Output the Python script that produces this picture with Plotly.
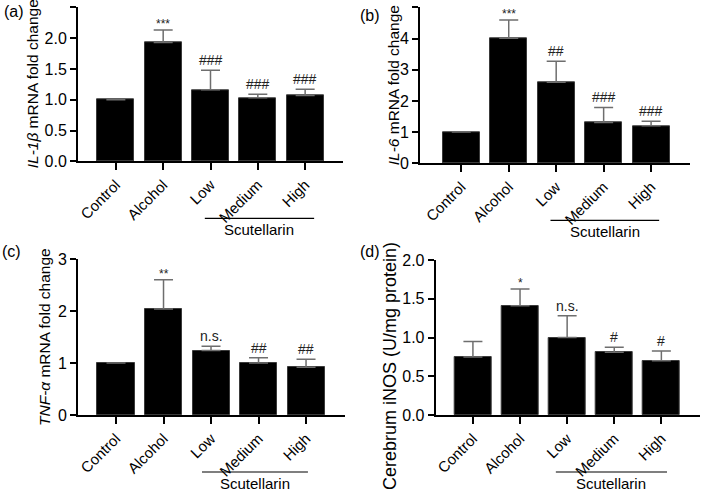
import plotly.graph_objects as go

W, H = 704, 491
FONT = "Arial, 'Liberation Sans', sans-serif"
ERR_GRAY = "#6e6e6e"

categories = ["Control", "Alcohol", "Low", "Medium", "High"]

il1b_mean = [1.0, 1.93, 1.16, 1.03, 1.07]
il1b_err = [0.0, 0.20, 0.32, 0.06, 0.10]
il1b_sig = ["", "***", "###", "###", "###"]

il6_mean = [1.0, 4.01, 2.60, 1.31, 1.20]
il6_err = [0.0, 0.58, 0.67, 0.48, 0.15]
il6_sig = ["", "***", "##", "###", "###"]

tnf_mean = [1.0, 2.04, 1.24, 1.00, 0.92]
tnf_err = [0.0, 0.56, 0.08, 0.10, 0.15]
tnf_sig = ["", "**", "n.s.", "##", "##"]

inos_mean = [0.75, 1.41, 1.00, 0.81, 0.70]
inos_err = [0.20, 0.215, 0.28, 0.065, 0.125]
inos_sig = ["", "*", "n.s.", "#", "#"]

# panel geometry in pixels: x-axis span, y-axis span (top, bottom)
panels = [
    dict(label="(a)", mean=il1b_mean, err=il1b_err, sig=il1b_sig,
         px=(78, 343), py=(7.3, 161.3), xr=(-0.8, 4.8), yr=(0, 2.5), dtick=0.5, fmt=".1f",
         title="<i>IL-1β</i> mRNA fold change", tx=32, tsize=15.5, ty=None,
         lab=(2, 12), line=(1.88, 4.19)),
    dict(label="(b)", mean=il6_mean, err=il6_err, sig=il6_sig,
         px=(420, 690), py=(7.3, 163.3), xr=(-0.87, 4.82), yr=(0, 5), dtick=1, fmt="d",
         title="<i>IL-6</i> mRNA fold change", tx=393, tsize=15.5, ty=None,
         lab=(358, 15), line=(1.88, 4.17)),
    dict(label="(c)", mean=tnf_mean, err=tnf_err, sig=tnf_sig,
         px=(78, 345), py=(259, 415), xr=(-0.8, 4.82), yr=(0, 3), dtick=1, fmt="d",
         title="<i>TNF-α</i> mRNA fold change", tx=44, tsize=15.5, ty=None,
         lab=(0, 251), line=(1.81, 4.04)),
    dict(label="(d)", mean=inos_mean, err=inos_err, sig=inos_sig,
         px=(435.7, 700), py=(260, 415), xr=(-0.79, 4.82), yr=(0, 2), dtick=0.5, fmt=".1f",
         title="Cerebrum iNOS (U/mg protein)", tx=390, tsize=18, ty=366,
         lab=(358, 251), line=(1.76, 4.12)),
]

LINE_DROP = 57
TEXT_DROP = 68

fig = go.Figure()
annotations = []
shapes = []

for i, p in enumerate(panels):
    n = "" if i == 0 else str(i + 1)
    xa, ya = "x" + n, "y" + n
    fig.add_trace(go.Bar(
        x=list(range(len(categories))), y=p["mean"], xaxis=xa, yaxis=ya,
        width=0.78, marker=dict(color="black", line=dict(color="#3a3a3a", width=1)),
        error_y=dict(type="data", symmetric=False, array=p["err"],
                     arrayminus=[0] * len(categories),
                     color=ERR_GRAY, thickness=1.5, width=9.5),
        showlegend=False,
    ))
    x0, x1 = p["px"]
    top, bot = p["py"]
    axis_h = bot - top
    common = dict(showgrid=False, zeroline=False, showline=True, linecolor="black",
                  linewidth=2, ticks="outside", tickwidth=2, tickcolor="black",
                  automargin=False)
    fig.update_layout(**{
        ("xaxis" + n): dict(domain=[x0 / W, x1 / W], range=list(p["xr"]), anchor=ya,
                            tickmode="array", tickvals=list(range(len(categories))),
                            ticktext=categories, tickangle=-45, ticklen=7,
                            tickfont=dict(family=FONT, size=15, color="black"), **common),
        ("yaxis" + n): dict(domain=[1 - bot / H, 1 - top / H], range=list(p["yr"]),
                            anchor=xa, dtick=p["dtick"], tickformat=p["fmt"], ticklen=6,
                            tickfont=dict(family=FONT, size=16, color="black"), **common),
    })
    # significance marks above error bars
    for k, s in enumerate(p["sig"]):
        if s:
            star = "*" in s
            annotations.append(dict(
                x=k, y=p["mean"][k] + p["err"][k], xref=xa, yref=ya, text=s,
                showarrow=False, yanchor="bottom", yshift=-3 if star else 0,
                font=dict(family=FONT, size=12 if star else 14, color="#222"),
            ))
    # axis title
    ty = p["ty"] if p["ty"] is not None else (top + bot) / 2
    annotations.append(dict(
        x=p["tx"] / W, y=1 - ty / H, xref="paper", yref="paper", text=p["title"],
        textangle=-90, showarrow=False, xanchor="center", yanchor="middle",
        font=dict(family=FONT, size=p["tsize"], color="black"),
    ))
    # panel label
    lx, ly = p["lab"]
    annotations.append(dict(
        x=lx / W, y=1 - ly / H, xref="paper", yref="paper", text=p["label"],
        showarrow=False, xanchor="left", yanchor="middle",
        font=dict(family=FONT, size=16, color="black"),
    ))
    # Scutellarin bracket
    lx0, lx1 = p["line"]
    shapes.append(dict(type="line", xref=xa, yref=ya + " domain",
                       x0=lx0, x1=lx1, y0=-LINE_DROP / axis_h, y1=-LINE_DROP / axis_h,
                       line=dict(color="black", width=1.2)))
    annotations.append(dict(
        x=(lx0 + lx1) / 2, y=-TEXT_DROP / axis_h, xref=xa, yref=ya + " domain",
        text="Scutellarin", showarrow=False, xanchor="center", yanchor="middle",
        font=dict(family=FONT, size=15, color="black"),
    ))

fig.update_layout(
    width=W, height=H, margin=dict(l=0, r=0, t=0, b=0),
    plot_bgcolor="white", paper_bgcolor="white",
    annotations=annotations, shapes=shapes, bargap=0,
)

fig.write_html("out.html", config={"displayModeBar": False},
               post_script="document.body.style.margin='0';")
